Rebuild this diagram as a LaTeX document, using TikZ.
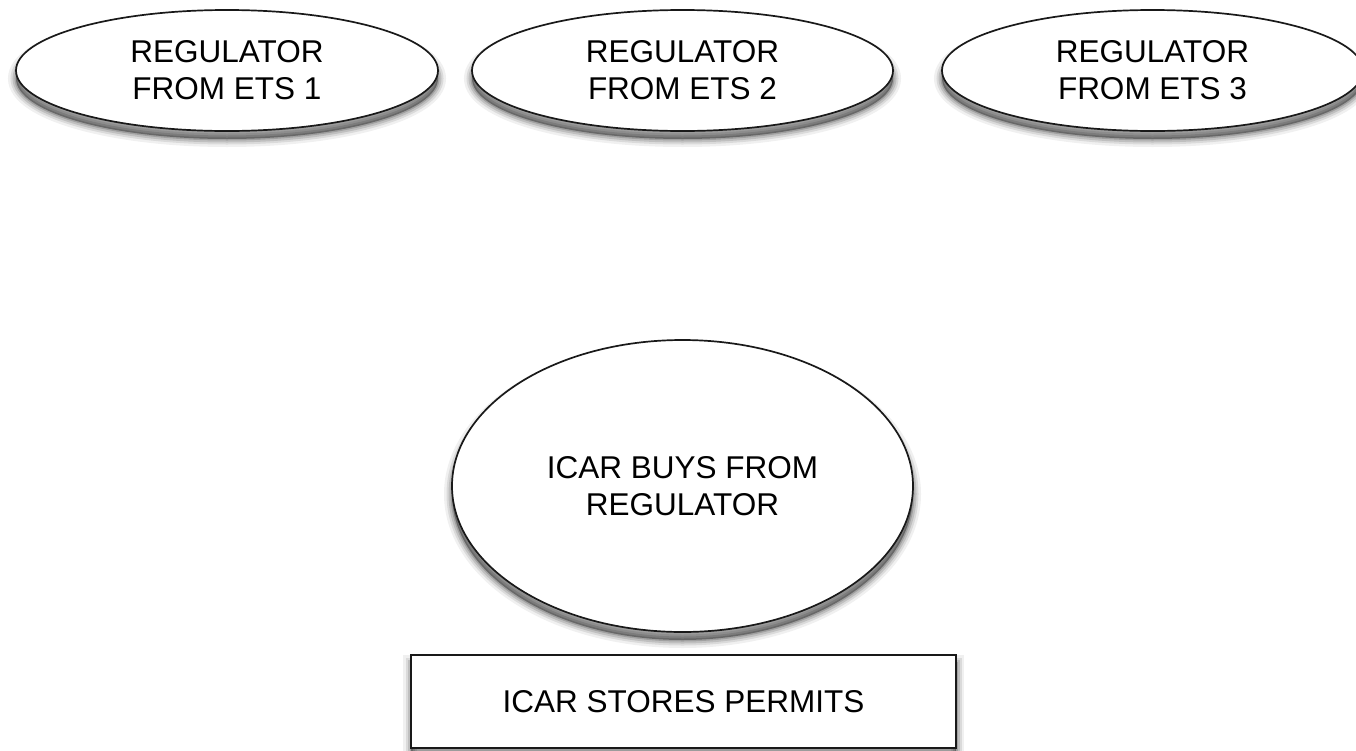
\documentclass[tikz,border=0pt]{standalone}
\usepackage{fontspec}
\newfontfamily\lab{Liberation Sans}
\usetikzlibrary{shapes.geometric}
\tikzset{
  softshadow/.style={
    preaction={draw=black, draw opacity=0.06, line width=16pt, transform canvas={yshift=-8pt}},
    preaction={draw=black, draw opacity=0.09, line width=11pt, transform canvas={yshift=-8pt}},
    preaction={draw=black, draw opacity=0.12, line width=7pt, transform canvas={yshift=-8pt}},
    preaction={draw=black, draw opacity=0.16, line width=3pt, transform canvas={yshift=-8pt}},
    preaction={fill=black, fill opacity=0.35, transform canvas={yshift=-8pt}}},
  lbl/.style={font={\lab\fontsize{31.5}{37}\selectfont}, align=center, text=black},
  oval/.style={ellipse, draw=black!90, line width=1.7pt, fill=white, inner sep=0pt, softshadow, lbl},
  boxnode/.style={rectangle, draw=black!90, line width=1.7pt, fill=white, inner sep=0pt, softshadow, lbl}
}
\begin{document}
\begin{tikzpicture}[x=1pt, y=-1pt]
\useasboundingbox (0,0) rectangle (1356,750);
\fill[white] (0,0) rectangle (1356,750);
\clip (0,0) rectangle (1356,750);
\node[oval, minimum width=422pt, minimum height=121pt] (r1) at (227,70.5) {REGULATOR\\FROM ETS 1};
\node[oval, minimum width=421pt, minimum height=121pt] (r2) at (682.5,70.5) {REGULATOR\\FROM ETS 2};
\node[oval, minimum width=421pt, minimum height=121pt] (r3) at (1152.5,70.5) {REGULATOR\\FROM ETS 3};
\node[oval, minimum width=461pt, minimum height=292pt] (buy) at (682.5,486) {ICAR BUYS FROM\\REGULATOR};
\node[boxnode, minimum width=545pt, minimum height=93pt] (store) at (683.5,701.5) {ICAR STORES PERMITS};
\end{tikzpicture}
\end{document}
